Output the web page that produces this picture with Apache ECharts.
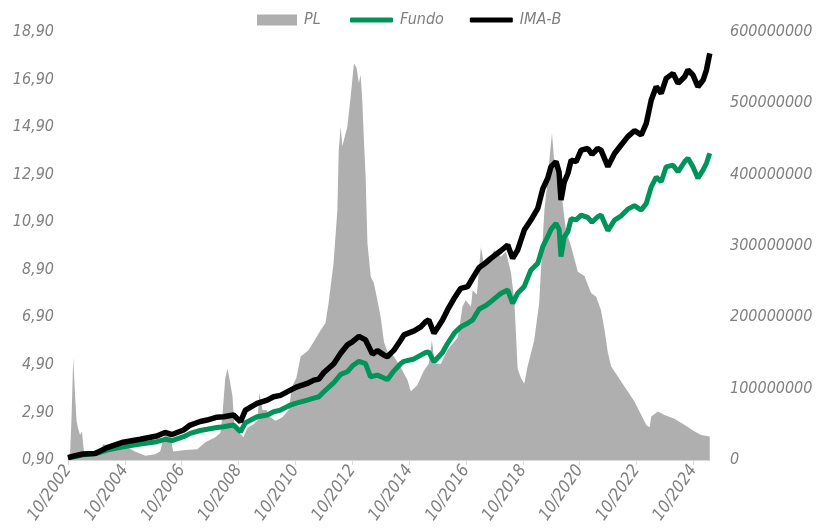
<!DOCTYPE html>
<html><head><meta charset="utf-8">
<script src="https://cdn.jsdelivr.net/npm/echarts@6/dist/echarts.min.js"></script>
<style>html,body{margin:0;padding:0;background:#fff}#c{width:825px;height:529px}</style>
</head><body><div id="c"></div>
<script>
// x = months since 10/2002
const xTickMonths = [0,24,48,72,96,120,144,168,192,216,240,264];
const leftTicks = [0.9,2.9,4.9,6.9,8.9,10.9,12.9,14.9,16.9,18.9];
const rightTicks = [0,100000000,200000000,300000000,400000000,500000000,600000000];

const plMonths = [0,0.9,1.5,2.2,3.0,3.6,4.2,5.1,5.9,6.6,7.6,11.4,13.5,14.8,17.8,21.2,25.0,28.3,32.6,36.8,38.9,41.0,43.1,44.4,49.5,54.6,58.0,62.2,64.3,65.1,66.4,67.3,68.1,69.4,70.2,71.9,74.0,75.7,78.3,80.0,80.8,82.1,83.8,85.4,87.6,90.5,93.1,94.6,96.4,98.2,101.5,103.6,106.6,108.7,110.0,112.1,113.7,114.3,115.1,115.8,116.5,117.9,119.3,120.7,121.8,122.8,123.5,124.2,124.9,125.6,126.4,127.8,129.1,130.6,132.0,133.4,134.8,137.6,140.4,143.3,144.7,147.5,150.2,152.3,153.6,154.8,157.4,160.3,164.6,166.5,167.9,170.1,170.8,172.6,174.3,175.7,178.5,179.9,182.7,184.9,187.0,188.4,189.8,191.2,192.6,194.0,196.8,198.9,199.7,201.1,202.5,203.2,204.3,205.3,206.7,208.1,209.5,210.2,212.4,215.2,218.0,220.8,222.9,225.0,226.5,227.9,229.3,232.1,234.9,239.1,242.0,244.1,245.5,246.2,249.0,251.8,256.0,260.3,264.5,267.3,270.9];
const plValues = [5e6,10e6,60e6,143e6,90e6,55e6,45e6,35e6,40e6,15e6,5e6,5e6,8e6,22e6,20e6,25e6,18e6,12e6,6e6,8e6,12e6,38e6,35e6,12e6,14e6,15e6,25e6,32e6,38e6,60e6,115e6,128e6,115e6,90e6,50e6,40e6,32e6,45e6,50e6,55e6,94e6,70e6,70e6,60e6,55e6,60e6,70e6,103e6,115e6,145e6,154e6,165e6,182e6,192e6,220e6,276e6,350e6,435e6,467e6,440e6,439e6,467e6,509e6,556e6,550e6,528e6,540e6,505e6,449e6,400e6,304e6,257e6,248e6,224e6,200e6,165e6,152e6,145e6,130e6,112e6,96e6,105e6,125e6,135e6,168e6,135e6,135e6,155e6,172e6,215e6,224e6,215e6,238e6,232e6,299e6,271e6,285e6,294e6,285e6,292e6,262e6,224e6,128e6,115e6,107e6,131e6,168e6,220e6,270e6,350e6,393e6,421e6,458e6,416e6,410e6,380e6,340e6,322e6,299e6,264e6,258e6,234e6,229e6,210e6,182e6,150e6,131e6,117e6,103e6,82e6,63e6,49e6,46e6,61e6,68e6,63e6,58e6,49e6,40e6,35e6,33e6];

const lineMonths = [0,3.0,6.3,11.4,16.5,23.3,30.5,37.5,41.0,43.9,48.8,51.6,55.8,58.7,62.9,65.7,69.9,72.8,74.9,79.8,84.1,86.8,89.7,93.9,96.7,101.0,103.8,105.9,108.0,112.2,115.1,117.9,120.0,122.8,125.6,127.7,128.5,130.6,133.4,134.8,137.6,140.4,141.8,146.1,148.9,151.0,152.3,154.5,158.1,160.2,163.0,165.8,168.7,170.8,173.6,176.4,178.5,182.7,185.6,187.7,189.8,192.6,195.4,198.3,200.4,202.5,203.9,206.0,207.3,208.1,209.5,211.0,212.4,214.5,216.6,219.4,221.2,223.6,225.0,227.9,230.7,233.5,236.3,239.1,242.0,244.1,246.2,248.3,250.4,252.5,255.4,257.5,260.3,261.7,263.8,265.9,268.1,269.5,270.9];
const imabValues = [1.00,1.08,1.15,1.17,1.42,1.65,1.77,1.91,2.06,1.97,2.16,2.37,2.52,2.58,2.70,2.72,2.79,2.51,3.00,3.28,3.42,3.56,3.62,3.84,3.98,4.12,4.26,4.30,4.58,4.95,5.39,5.74,5.87,6.10,5.95,5.52,5.35,5.50,5.31,5.24,5.52,5.94,6.16,6.33,6.50,6.72,6.79,6.23,6.79,7.21,7.70,8.12,8.19,8.55,9.00,9.20,9.38,9.70,9.94,9.38,9.73,10.57,10.99,11.48,12.30,12.75,13.24,13.45,13.00,11.83,12.60,12.95,13.51,13.45,13.93,14.00,13.75,14.00,13.93,13.24,13.79,14.15,14.50,14.75,14.57,15.06,16.04,16.60,16.32,16.95,17.16,16.74,17.02,17.30,17.09,16.60,16.88,17.30,18.00];
const fundoValues = [1.00,1.05,1.12,1.16,1.32,1.46,1.57,1.67,1.77,1.72,1.88,2.02,2.14,2.19,2.27,2.30,2.37,2.09,2.47,2.72,2.79,2.93,3.00,3.21,3.30,3.42,3.50,3.56,3.77,4.15,4.50,4.61,4.85,5.05,4.95,4.40,4.33,4.47,4.35,4.28,4.65,4.95,5.05,5.15,5.31,5.42,5.45,5.03,5.42,5.80,6.23,6.50,6.65,6.79,7.25,7.40,7.56,7.90,8.05,7.49,7.91,8.20,8.89,9.17,9.87,10.29,10.60,10.85,10.60,9.45,10.29,10.50,11.05,11.00,11.20,11.10,10.90,11.13,11.20,10.55,10.99,11.17,11.45,11.60,11.41,11.69,12.39,12.80,12.60,13.23,13.30,13.02,13.45,13.59,13.23,12.75,13.10,13.38,13.80];

const FONT = "'Liberation Sans Narrow','DejaVu Sans Condensed',Roboto,sans-serif";
const GRAY = '#808080';
const FS = 16;
const zip = (a,b)=>a.map((v,i)=>[v,b[i]]);
const legendText = {color:GRAY,fontSize:FS,fontStyle:'italic',fontFamily:FONT,padding:[0,0,0,2]};

const chart = echarts.init(document.getElementById('c'));
chart.setOption({
  animation:false,
  textStyle:{fontFamily:FONT,fontStyle:'italic'},
  legend:[{
    top:7,left:252,itemWidth:40,itemHeight:11,
    textStyle:legendText,
    data:[{name:'PL',icon:'rect'}]
  },{
    top:7,left:345,itemWidth:43,itemHeight:5,itemGap:26,
    textStyle:legendText,
    data:[{name:'Fundo',icon:'roundRect'},{name:'IMA-B',icon:'roundRect'}]
  }],
  grid:{left:68,right:115,top:32,bottom:69,containLabel:false},
  xAxis:{
    type:'value',min:0,max:271,interval:24,
    axisLine:{lineStyle:{color:'#d9d9d9',width:1}},
    axisTick:{show:true,length:5,lineStyle:{color:'#d9d9d9'},customValues:xTickMonths},
    splitLine:{show:false},
    axisLabel:{rotate:55,margin:7,color:GRAY,fontSize:17,fontStyle:'italic',fontFamily:FONT,
      customValues:xTickMonths,
      formatter:v=>{const t=9+v;const y=2002+Math.floor(t/12);const mo=(t%12)+1;return (mo<10?'0':'')+mo+'/'+y;}}
  },
  yAxis:[{
    type:'value',min:0.9,max:18.9,
    axisLine:{show:false},axisTick:{show:false},splitLine:{show:false},
    axisLabel:{customValues:leftTicks,color:GRAY,fontSize:FS,fontStyle:'italic',fontFamily:FONT,margin:14,
      formatter:v=>v.toFixed(2).replace('.',',')}
  },{
    type:'value',min:0,max:600000000,interval:100000000,
    axisLine:{show:false},axisTick:{show:false},splitLine:{show:false},
    axisLabel:{customValues:rightTicks,color:GRAY,fontSize:FS,fontStyle:'italic',fontFamily:FONT,margin:20,
      formatter:v=>String(Math.round(v))}
  }],
  series:[{
    name:'PL',type:'line',yAxisIndex:1,symbol:'none',
    itemStyle:{color:'#afafaf'},lineStyle:{width:0,color:'#afafaf'},
    areaStyle:{color:'#afafaf',opacity:1},
    data:zip(plMonths,plValues)
  },{
    name:'Fundo',type:'line',yAxisIndex:0,symbol:'none',
    itemStyle:{color:'#00935a'},lineStyle:{width:5,color:'#00935a'},
    data:zip(lineMonths,fundoValues)
  },{
    name:'IMA-B',type:'line',yAxisIndex:0,symbol:'none',
    itemStyle:{color:'#000000'},lineStyle:{width:5.5,color:'#000000'},
    data:zip(lineMonths,imabValues)
  }]
});
</script></body></html>
